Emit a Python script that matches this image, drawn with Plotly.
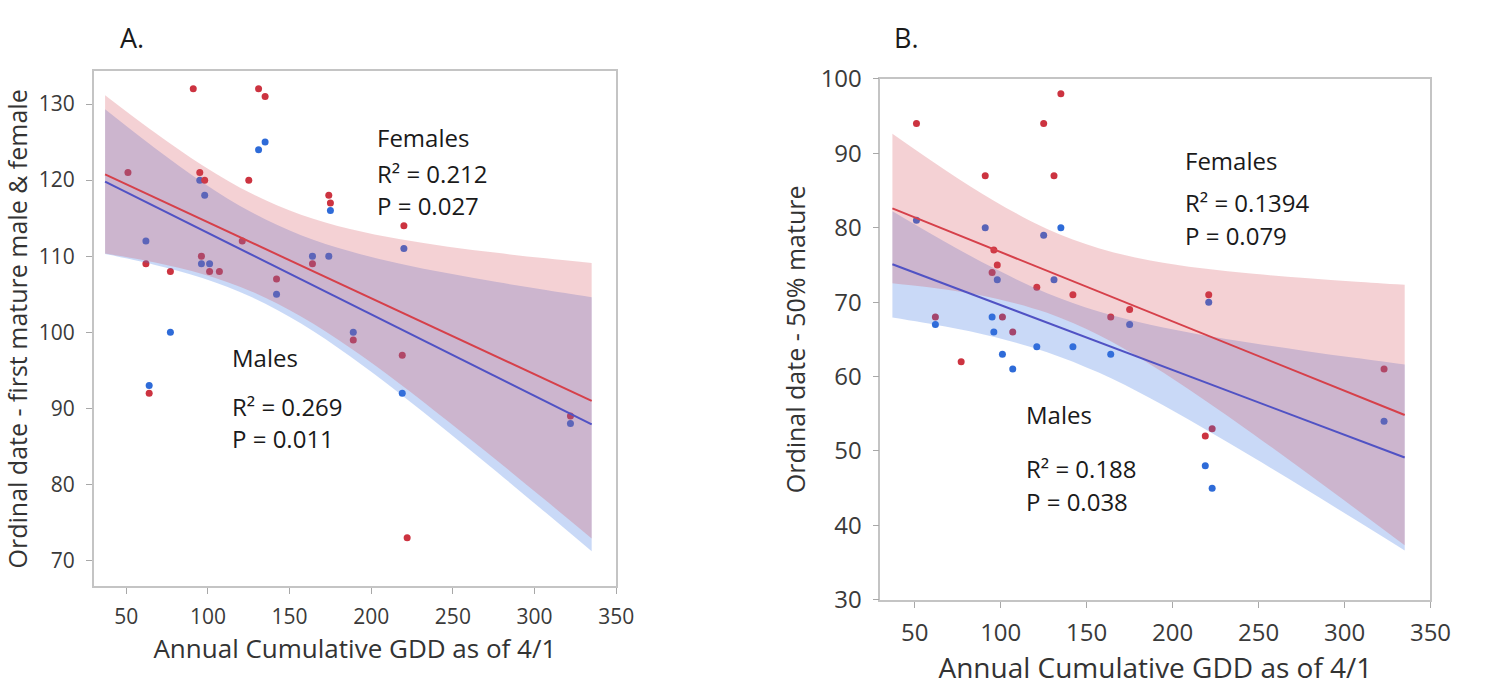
import plotly.graph_objects as go

# ---------------- Panel A data (first mature) ----------------
a_fem_x = [91, 131, 135, 51, 95, 98, 125, 174, 175, 121, 96, 101, 107, 62, 77, 164, 142, 189, 219, 64, 222, 322, 220]
a_fem_y = [132, 132, 131, 121, 121, 120, 120, 118, 117, 112, 110, 108, 108, 109, 108, 109, 107, 99, 97, 92, 73, 89, 114]
a_mal_x = [135, 131, 95, 98, 175, 62, 96, 101, 164, 174, 142, 77, 189, 64, 219, 322, 220]
a_mal_y = [125, 124, 120, 118, 116, 112, 109, 109, 110, 110, 105, 100, 100, 93, 92, 88, 111]

# fitted lines (end points) and confidence bands
fit_x = [37, 335]
a_fem_fit = [120.75, 91.0]
a_mal_fit = [119.8, 87.9]
band_x = [37, 67, 97, 127, 157, 187, 217, 247, 277, 307, 335]
a_fem_up = [131.15, 126.31, 121.89, 118.20, 115.46, 113.58, 112.26, 111.26, 110.44, 109.72, 109.11]
a_fem_lo = [110.35, 109.21, 107.63, 105.34, 102.08, 97.98, 93.32, 88.32, 83.16, 77.88, 72.91]
a_mal_up = [129.30, 124.29, 119.67, 115.74, 112.76, 110.64, 109.05, 107.75, 106.60, 105.55, 104.61]
a_mal_lo = [110.30, 108.89, 107.09, 104.60, 101.16, 96.86, 92.03, 86.91, 81.64, 76.27, 71.21]

# ---------------- Panel B data (50% mature) ----------------
b_fem_x = [51, 91, 125, 135, 131, 96, 98, 95, 121, 142, 175, 164, 62, 101, 107, 77, 221, 323, 223, 219]
b_fem_y = [94, 87, 94, 98, 87, 77, 75, 74, 72, 71, 69, 68, 68, 68, 66, 62, 71, 61, 53, 52]
b_mal_x = [51, 91, 135, 125, 98, 131, 175, 62, 95, 96, 121, 142, 164, 101, 107, 221, 323, 219, 223]
b_mal_y = [81, 80, 80, 79, 73, 73, 67, 67, 68, 66, 64, 64, 63, 63, 61, 70, 54, 48, 45]

b_fem_fit = [82.6, 54.83]
b_mal_fit = [75.1, 49.12]
b_fem_up = [92.62, 87.86, 83.50, 79.84, 77.25, 75.61, 74.55, 73.81, 73.24, 72.74, 72.33]
b_fem_lo = [72.54, 71.72, 70.50, 68.56, 65.57, 61.63, 57.09, 52.25, 47.24, 42.14, 37.33]
b_mal_up = [82.22, 78.19, 74.44, 71.20, 68.73, 66.96, 65.60, 64.47, 63.45, 62.48, 61.62]
b_mal_lo = [67.94, 66.75, 65.28, 63.28, 60.53, 57.08, 53.20, 49.11, 44.91, 40.64, 36.62]

x_ticks = [50, 100, 150, 200, 250, 300, 350]
a_y_ticks = [70, 80, 90, 100, 110, 120, 130]
b_y_ticks = [30, 40, 50, 60, 70, 80, 90, 100]

RED_PT = "#cc3340"
BLUE_PT = "#2e6bd8"
RED_LN = "#d6404a"
BLUE_LN = "#5052c4"
RED_BAND = "rgba(214,76,90,0.26)"
BLUE_BAND = "rgba(60,120,225,0.28)"
FONT = "Open Sans"

W, H = 1485, 690

fig = go.Figure()


def add_panel(xa, ya, fx, fy, mx, my, ffit, mfit, fup, flo, mup, mlo):
    # points first (bands are drawn over them)
    fig.add_trace(go.Scatter(x=mx, y=my, mode="markers", xaxis=xa, yaxis=ya,
                             marker=dict(color=BLUE_PT, size=7), showlegend=False))
    fig.add_trace(go.Scatter(x=fx, y=fy, mode="markers", xaxis=xa, yaxis=ya,
                             marker=dict(color=RED_PT, size=7), showlegend=False))
    # male band
    fig.add_trace(go.Scatter(x=band_x, y=mlo, mode="lines", xaxis=xa, yaxis=ya,
                             line=dict(width=0, shape="spline"), showlegend=False, hoverinfo="skip"))
    fig.add_trace(go.Scatter(x=band_x, y=mup, mode="lines", xaxis=xa, yaxis=ya, fill="tonexty",
                             fillcolor=BLUE_BAND, line=dict(width=0, shape="spline"),
                             showlegend=False, hoverinfo="skip"))
    # female band
    fig.add_trace(go.Scatter(x=band_x, y=flo, mode="lines", xaxis=xa, yaxis=ya,
                             line=dict(width=0, shape="spline"), showlegend=False, hoverinfo="skip"))
    fig.add_trace(go.Scatter(x=band_x, y=fup, mode="lines", xaxis=xa, yaxis=ya, fill="tonexty",
                             fillcolor=RED_BAND, line=dict(width=0, shape="spline"),
                             showlegend=False, hoverinfo="skip"))
    # fit lines
    fig.add_trace(go.Scatter(x=fit_x, y=mfit, mode="lines", xaxis=xa, yaxis=ya,
                             line=dict(color=BLUE_LN, width=2), showlegend=False))
    fig.add_trace(go.Scatter(x=fit_x, y=ffit, mode="lines", xaxis=xa, yaxis=ya,
                             line=dict(color=RED_LN, width=2), showlegend=False))


add_panel("x", "y", a_fem_x, a_fem_y, a_mal_x, a_mal_y, a_fem_fit, a_mal_fit,
          a_fem_up, a_fem_lo, a_mal_up, a_mal_lo)
add_panel("x2", "y2", b_fem_x, b_fem_y, b_mal_x, b_mal_y, b_fem_fit, b_mal_fit,
          b_fem_up, b_fem_lo, b_mal_up, b_mal_lo)


def px_x(p):
    return p / W


def px_y(p):
    return 1 - p / H


axis_common = dict(showline=True, linecolor="#c4c4c4", linewidth=1.5, mirror=True,
                   showgrid=False, zeroline=False, ticks="outside", ticklen=6,
                   tickcolor="#a8a8a8", tickwidth=1.2)

xt_title = "Annual Cumulative GDD as of 4/1"

fig.update_layout(
    width=W, height=H,
    margin=dict(l=0, r=0, t=0, b=0),
    paper_bgcolor="white", plot_bgcolor="white",
    font=dict(family=FONT, color="#333333"),
    xaxis=dict(domain=[px_x(95), px_x(625)], range=[30, 350], anchor="y",
               tickvals=x_ticks, tickfont=dict(size=21, color="#3a3a3a"),
               ticklabelstandoff=5,
               title=dict(text=xt_title, font=dict(size=26, color="#333333"), standoff=6),
               **axis_common),
    yaxis=dict(domain=[px_y(597), px_y(56)], range=[66.6, 134.3], anchor="x",
               tickvals=a_y_ticks, tickfont=dict(size=21, color="#3a3a3a"),
               ticklabelstandoff=7,
               title=dict(text="Ordinal date - first mature male & female",
                          font=dict(size=25, color="#333333"), standoff=8),
               **axis_common),
    xaxis2=dict(domain=[px_x(893), px_x(1451)], range=[30, 350], anchor="y2",
                tickvals=x_ticks, tickfont=dict(size=24, color="#3a3a3a"),
                ticklabelstandoff=5,
                title=dict(text=xt_title, font=dict(size=28, color="#333333"), standoff=4),
                **axis_common),
    yaxis2=dict(domain=[px_y(611), px_y(64)], range=[30, 100], anchor="x2",
                tickvals=b_y_ticks, tickfont=dict(size=24, color="#3a3a3a"),
                ticklabelstandoff=6,
                title=dict(text="Ordinal date - 50% mature",
                           font=dict(size=25, color="#333333"), standoff=8),
                **axis_common),
)

notes = [
    ("A.", 120, 20, 27),
    ("B.", 905, 20, 27),
    ("Females", 380, 125, 24),
    ("R² = 0.212", 380, 163, 24),
    ("P = 0.027", 380, 197, 24),
    ("Males", 233, 357, 24),
    ("R² = 0.269", 233, 408, 24),
    ("P = 0.011", 233, 442, 24),
    ("Females", 1200, 150, 24),
    ("R² = 0.1394", 1200, 194, 24),
    ("P = 0.079", 1200, 228, 24),
    ("Males", 1039, 416, 24),
    ("R² = 0.188", 1039, 473, 24),
    ("P = 0.038", 1039, 508, 24),
]
for txt, x, y, s in notes:
    fig.add_annotation(text=txt, x=px_x(x), y=px_y(y), xref="paper", yref="paper",
                       xanchor="left", yanchor="middle", showarrow=False,
                       font=dict(family=FONT, size=s, color="#1a1a1a"))

fig.write_html("out.html", config={"displayModeBar": False})

# remove default page margin so the figure sits at the window origin
with open("out.html", "r", encoding="utf-8") as fh:
    html = fh.read()
html = html.replace("<body>", '<body style="margin:0;padding:0;">', 1)
with open("out.html", "w", encoding="utf-8") as fh:
    fh.write(html)
